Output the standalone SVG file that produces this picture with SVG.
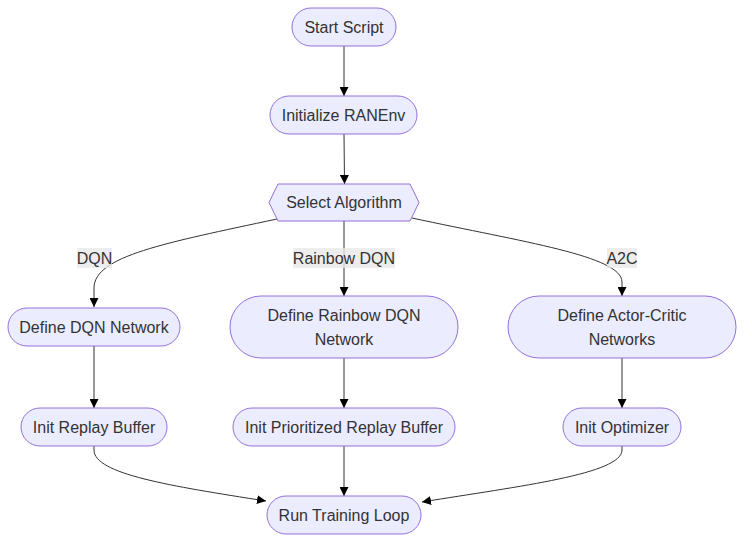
<svg xmlns="http://www.w3.org/2000/svg" width="752" height="548" viewBox="0 0 752 548">
<style>
.node rect, .node polygon { fill: #ECECFF; stroke: #9370DB; stroke-width: 1; }
text { font-family: "Liberation Sans", Arial, sans-serif; font-size: 16px; fill: #333; text-anchor: middle; dominant-baseline: central; }
.edge { fill: none; stroke: #333; stroke-width: 1; }
.lbl rect { fill: #E8E8E8; fill-opacity: 0.8; }
</style>
<defs>
<marker id="arrow" viewBox="0 0 10 10" refX="10" refY="5" markerUnits="userSpaceOnUse" markerWidth="9" markerHeight="9" orient="auto">
<path d="M0,0 L10,5 L0,10 z" fill="#000"/>
</marker>
</defs>
<rect width="752" height="548" fill="#fff"/>
<g id="edges">
<path class="edge" d="M344,46 L344,96" marker-end="url(#arrow)"/>
<path class="edge" d="M344,134 L344.5,184" marker-end="url(#arrow)"/>
<path class="edge" d="M277,219 C165,243 94,256 94,288 L94,307" marker-end="url(#arrow)"/>
<path class="edge" d="M344,221 L344,296" marker-end="url(#arrow)"/>
<path class="edge" d="M412,218 C523,242 622,256 622,282 L622,296" marker-end="url(#arrow)"/>
<path class="edge" d="M94,346 L94,408" marker-end="url(#arrow)"/>
<path class="edge" d="M344,358 L344,408" marker-end="url(#arrow)"/>
<path class="edge" d="M622,358 L622,408" marker-end="url(#arrow)"/>
<path class="edge" d="M94,446 L94,450 C94,474 170,486 266,501" marker-end="url(#arrow)"/>
<path class="edge" d="M344,446 L344,496" marker-end="url(#arrow)"/>
<path class="edge" d="M622,446 L622,450 C622,474 520,486 422,502" marker-end="url(#arrow)"/>
</g>
<g id="edge-labels">
<g class="lbl"><rect x="77" y="248" width="35" height="20"/><text x="94.5" y="258">DQN</text></g>
<g class="lbl"><rect x="293" y="248" width="102" height="20"/><text x="344" y="258">Rainbow DQN</text></g>
<g class="lbl"><rect x="607" y="248" width="30" height="20"/><text x="622" y="258">A2C</text></g>
</g>
<g id="start" class="node"><rect x="292" y="8" width="104" height="38" rx="19"/><text x="344" y="27">Start Script</text></g>
<g id="init-env" class="node"><rect x="270" y="96" width="147" height="38" rx="19"/><text x="343.5" y="115">Initialize RANEnv</text></g>
<g id="select" class="node"><polygon points="269,202.5 278,184 410,184 419,202.5 410,221 278,221"/><text x="344" y="202.5">Select Algorithm</text></g>
<g id="dqn-net" class="node"><rect x="8" y="308" width="172" height="38" rx="19"/><text x="94" y="327">Define DQN Network</text></g>
<g id="rainbow-net" class="node"><rect x="230" y="296" width="228" height="62" rx="31"/><text x="344" y="315">Define Rainbow DQN</text><text x="344" y="339">Network</text></g>
<g id="ac-net" class="node"><rect x="508" y="296" width="228" height="62" rx="31"/><text x="622" y="315">Define Actor-Critic</text><text x="622" y="339">Networks</text></g>
<g id="replay" class="node"><rect x="21" y="408" width="146" height="38" rx="19"/><text x="94" y="427">Init Replay Buffer</text></g>
<g id="per" class="node"><rect x="233" y="408" width="222" height="38" rx="19"/><text x="344" y="427">Init Prioritized Replay Buffer</text></g>
<g id="optim" class="node"><rect x="563" y="408" width="118" height="38" rx="19"/><text x="622" y="427">Init Optimizer</text></g>
<g id="train" class="node"><rect x="267" y="496" width="154" height="38" rx="19"/><text x="344" y="515">Run Training Loop</text></g>
</svg>
